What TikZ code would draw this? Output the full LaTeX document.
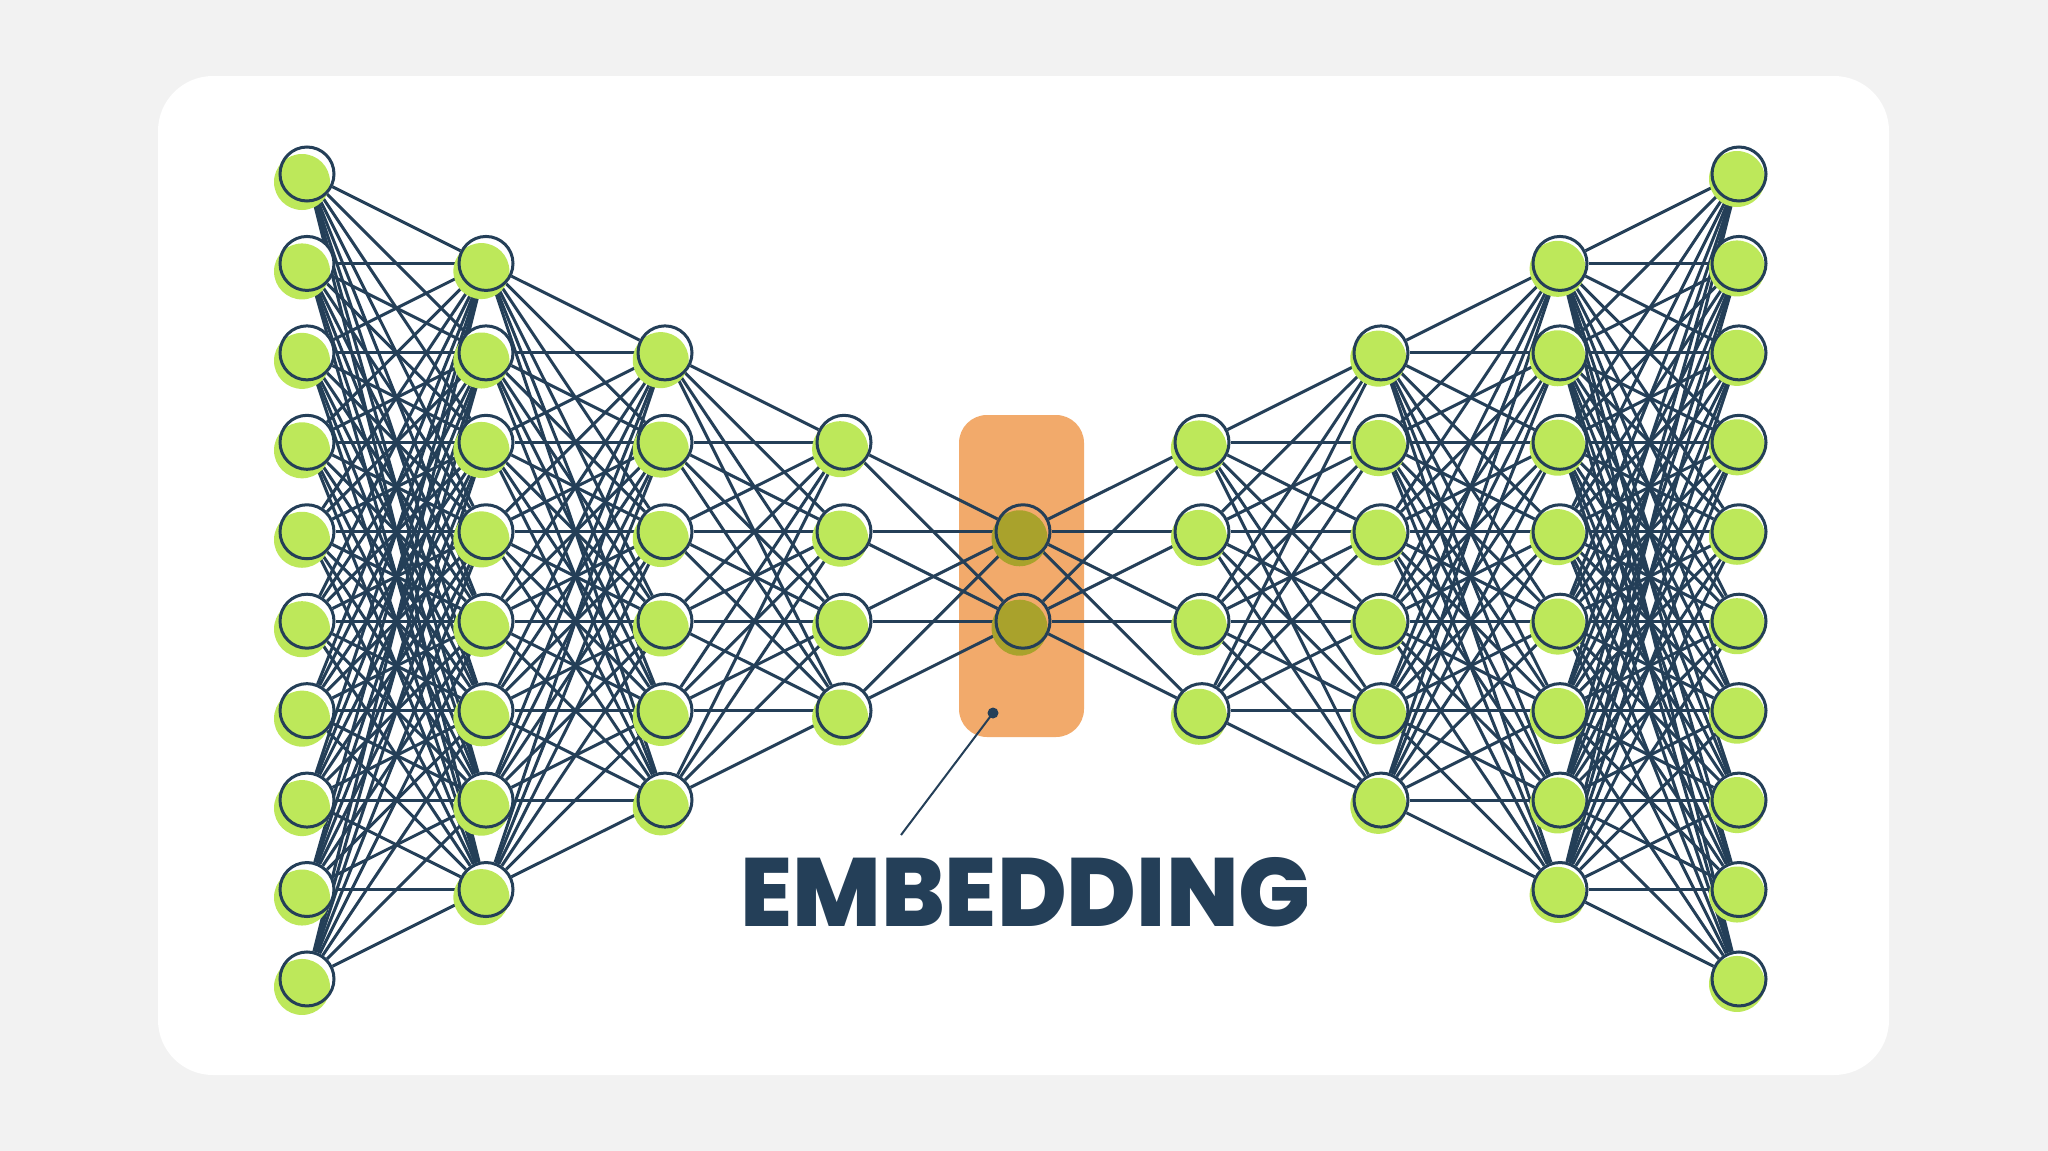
\documentclass[tikz,border=0pt]{standalone}
\usepackage{fontspec}
\newfontfamily\pop{Poppins ExtraBold}
\definecolor{navy}{HTML}{243F58}
\definecolor{lime}{HTML}{BDE85A}
\definecolor{olive}{HTML}{A9A22C}
\definecolor{emb}{HTML}{F2AA6B}
\definecolor{page}{HTML}{F2F2F2}
\pgfdeclarelayer{bg}\pgfdeclarelayer{edges}\pgfdeclarelayer{fills}
\pgfsetlayers{bg,edges,fills,main}
\begin{document}
\begin{tikzpicture}[x=1pt,y=-1pt,
 neuron/.style={circle,minimum size=54pt,inner sep=0pt,draw=navy,line width=3pt},
 link/.style={draw=navy,line width=3pt},
 pointer/.style={draw=navy,line width=2pt},
 title/.style={text=navy,font=\pop\fontsize{97}{97}\selectfont,anchor=base,inner sep=0pt,xscale=0.98}
]
\useasboundingbox (0,0) rectangle (2048,1151);
\begin{pgfonlayer}{bg}
\fill[page] (0,0) rectangle (2048,1151);
\fill[white,rounded corners=55pt] (158,76) rectangle (1889,1075);
\fill[emb,rounded corners=28pt] (959,415) rectangle (1084,737);
\end{pgfonlayer}
% neurons
\foreach \i/\n/\f in {1/10/0,2/8/1,3/6/2,4/4/3,5/2/4,6/4/3,7/6/2,8/8/1,9/10/0}{
  \foreach \k in {1,...,\n}{
    \pgfmathsetmacro\row{\f+\k-1}
    \node[neuron] (n-\i-\k) at ({307+179*(\i-1)},{174+89.44*\row}) {};
  }
}
% links
\begin{pgfonlayer}{edges}
\foreach \i/\n/\m in {1/10/8,2/8/6,3/6/4,4/4/2,5/2/4,6/4/6,7/6/8,8/8/10}{
  \pgfmathtruncatemacro\j{\i+1}
  \foreach \a in {1,...,\n}{
    \foreach \b in {1,...,\m}{
      \draw[link] (n-\i-\a) -- (n-\j-\b);
    }
  }
}
\end{pgfonlayer}
% fills
\begin{pgfonlayer}{fills}
\foreach \i/\n in {1/10,2/8,3/6,4/4,5/2,6/4,7/6,8/8,9/10}{
  \pgfmathsetmacro\dx{-5+3*(\i-1)/8}
  \pgfmathsetmacro\dy{8-3*(\i-1)/8}
  \ifnum\i=5 \def\incol{emb}\def\outcol{olive}\else\def\incol{white}\def\outcol{lime}\fi
  \foreach \k in {1,...,\n}{
    \fill[\incol] (n-\i-\k.center) circle (27pt);
    \fill[\outcol] ([shift={(\dx,\dy)}]n-\i-\k.center) circle (28pt);
  }
}
\end{pgfonlayer}
% pointer and label
\node[circle,fill=navy,minimum size=11pt,inner sep=0pt] (dot) at (993,713) {};
\coordinate (tip) at (901,835);
\draw[pointer] (dot.center) -- (tip);
\node[title] (label) at (1025.5,926) {EMBEDDING};
\end{tikzpicture}
\end{document}
